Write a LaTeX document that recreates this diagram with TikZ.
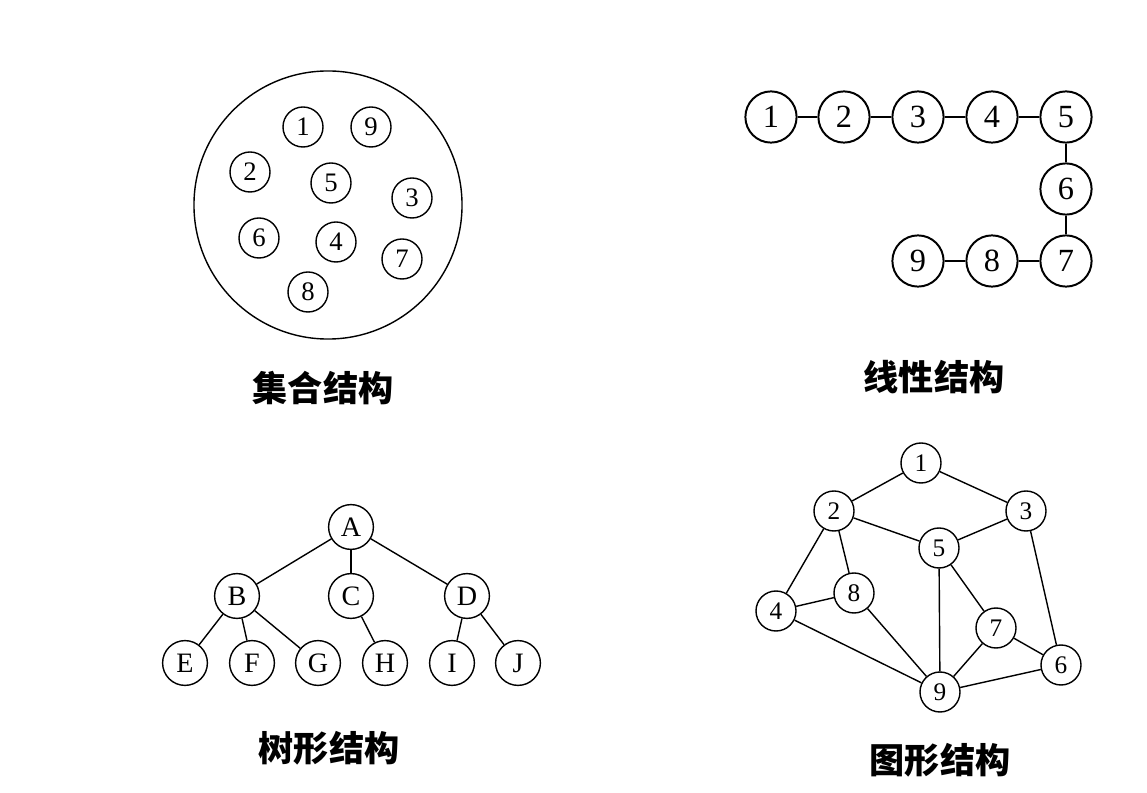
\documentclass[tikz,border=0pt]{standalone}
\usepackage{fontspec}
\setmainfont{Liberation Serif}
\newfontfamily\cjk{Noto Sans CJK SC}
\usetikzlibrary{positioning}

\tikzset{
  ring/.style={circle, draw, line width=1pt, inner sep=0pt},
  setnode/.style={ring, minimum size=1cm, font=\fontsize{19}{19}\selectfont},
  linnode/.style={ring, line width=1.4pt, minimum size=1.28cm, font=\fontsize{23}{23}\selectfont},
  treenode/.style={ring, minimum size=1.12cm, font=\fontsize{20}{20}\selectfont},
  graphnode/.style={ring, minimum size=1cm, font=\fontsize{18}{18}\selectfont},
  caption/.style={font=\cjk\bfseries\fontsize{25}{25}\selectfont},
  link/.style={line width=1pt}
}

\begin{document}
\begin{tikzpicture}[x=0.025cm, y=-0.025cm]
  \useasboundingbox (0,0) rectangle (1147,793);

  % Set structure
  \draw[line width=1pt] (328,205) circle (3.35cm);
  \foreach \n/\x/\y in {1/303/127, 9/371/127, 2/250/172, 5/331/183, 3/412/198,
                        6/259/238, 4/336/242, 7/402/259, 8/308/292}
    \node[setnode] (s\n) at (\x,\y) {\n};
  \node[caption] (capset) at (323,388) {集合结构};

  % Linear structure
  \foreach \n/\x/\y in {1/771/117, 2/844/117, 3/918/117, 4/992/117, 5/1066/117,
                        6/1066/189, 7/1066/261, 8/992/261, 9/918/261}
    \node[linnode] (l\n) at (\x,\y) {\n};
  \foreach \a/\b in {1/2, 2/3, 3/4, 4/5, 5/6, 6/7, 7/8, 8/9}
    \draw[link] (l\a) -- (l\b);
  \node[caption] (caplin) at (934,377) {线性结构};

  % Tree structure
  \foreach \n/\x/\y in {A/351/527, B/237/596, C/351/596, D/467/596,
                        E/185/663, F/252/663, G/318/663, H/385/663, I/452/663, J/518/663}
    \node[treenode] (t\n) at (\x,\y) {\n};
  \foreach \a/\b in {A/B, A/C, A/D, B/E, B/F, B/G, C/H, D/I, D/J}
    \draw[link] (t\a) -- (t\b);
  \node[caption] (captree) at (329,748) {树形结构};

  % Graph structure
  \foreach \n/\x/\y in {1/921/463, 2/834/511, 3/1026/511, 5/939/548, 8/854/593,
                        4/776/611, 7/996/628, 6/1061/665, 9/940/692}
    \node[graphnode] (g\n) at (\x,\y) {\n};
  \foreach \a/\b in {1/2, 1/3, 2/5, 3/5, 2/4, 2/8, 4/8, 4/9, 8/9,
                     5/9, 5/7, 3/6, 7/9, 7/6, 9/6}
    \draw[link] (g\a) -- (g\b);
  \node[caption] (capgraph) at (940,760) {图形结构};
\end{tikzpicture}
\end{document}
